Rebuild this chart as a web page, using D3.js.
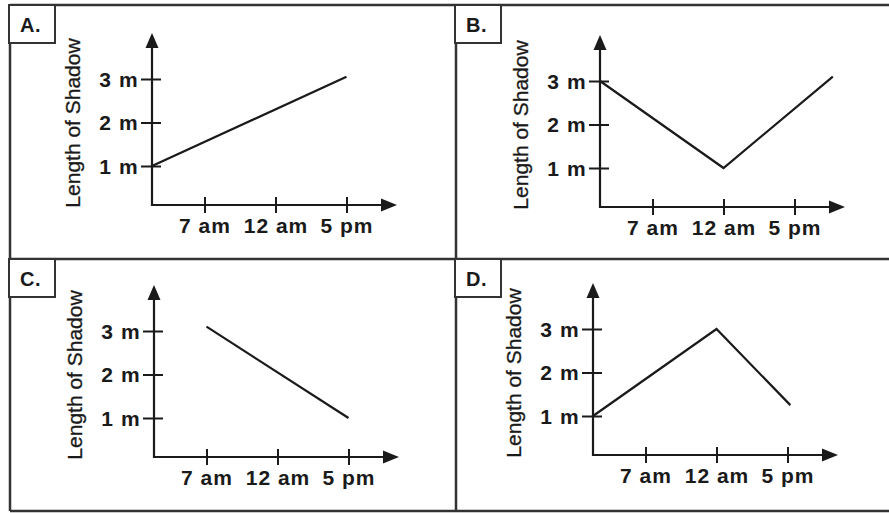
<!DOCTYPE html>
<html><head><meta charset="utf-8">
<script src="https://cdn.jsdelivr.net/npm/d3@7"></script>
<style>html,body{margin:0;padding:0;background:#fff;}svg{display:block;}</style>
</head><body>
<svg id="chart" width="889" height="513"></svg>
<script>
// ---- data ----
const panelLabels = ["A.", "B.", "C.", "D."];
const xTickHours = [7, 12, 17];
const xTickLabels = ["7 am", "12 am", "5 pm"];
const yTickValues = [1, 2, 3];
const yTickLabels = ["1 m", "2 m", "3 m"];
const yTitle = "Length of Shadow";
const hoursA = [3.3, 17],        shadowA = [1, 3.05];
const hoursB = [3.3, 12, 19.7],  shadowB = [3, 1, 3.1];
const hoursC = [7, 17],          shadowC = [3.1, 1];
const hoursD = [3.3, 12, 17.2],  shadowD = [1, 3, 1.25];

// ---- layout ----
const seriesHours = [hoursA, hoursB, hoursC, hoursD];
const seriesShadow = [shadowA, shadowB, shadowC, shadowD];
const panelBoxes = [[10, 5], [456, 5], [10, 259], [456, 259]];
const origins = [[152, 205], [600, 207], [154, 457], [593, 455]];
const ink = "#1a1a1a";
const sans = "Liberation Sans, Arial, Helvetica, sans-serif";

const svg = d3.select("#chart");
svg.append("rect").attr("width", 889).attr("height", 513).attr("fill", "#fff");

// outer frame and dividers
const frame = svg.append("g").attr("stroke", "#333").attr("stroke-width", 2.5).attr("fill", "none");
frame.append("line").attr("x1", 10).attr("x2", 889).attr("y1", 5).attr("y2", 5);
frame.append("line").attr("x1", 10).attr("x2", 889).attr("y1", 511).attr("y2", 511);
frame.append("line").attr("x1", 10).attr("x2", 10).attr("y1", 5).attr("y2", 511);
frame.append("line").attr("x1", 456).attr("x2", 456).attr("y1", 5).attr("y2", 511);
frame.append("line").attr("x1", 10).attr("x2", 889).attr("y1", 259).attr("y2", 259);

panelLabels.forEach((lab, i) => {
  const [px, py] = panelBoxes[i];
  const [ox, oy] = origins[i];
  const g = svg.append("g");

  // label box
  g.append("rect").attr("x", px - 1).attr("y", py).attr("width", 46).attr("height", 38)
    .attr("fill", "#fff").attr("stroke", "#333").attr("stroke-width", 2);
  g.append("text").attr("x", px + 10).attr("y", py + 27).text(lab)
    .attr("font-family", sans).attr("font-weight", "bold")
    .attr("font-size", 20).attr("letter-spacing", 0.5).attr("fill", ink);

  const x = d3.scaleLinear().domain([3.3, 17]).range([ox, ox + 194.5]);
  const y = d3.scaleLinear().domain([0, 3]).range([oy + 4.5, oy + 4.5 - 130.5]);

  // axis lines with arrows
  g.append("line").attr("x1", ox).attr("x2", ox).attr("y1", oy + 1).attr("y2", oy - 160)
    .attr("stroke", ink).attr("stroke-width", 2.2);
  g.append("line").attr("x1", ox - 1).attr("x2", ox + 232).attr("y1", oy).attr("y2", oy)
    .attr("stroke", ink).attr("stroke-width", 2.2);
  g.append("path").attr("d", `M${ox},${oy - 172} L${ox - 6.5},${oy - 157} L${ox + 6.5},${oy - 157}Z`).attr("fill", ink);
  g.append("path").attr("d", `M${ox + 245},${oy} L${ox + 229},${oy - 6.5} L${ox + 229},${oy + 6.5}Z`).attr("fill", ink);

  // y axis
  const ya = g.append("g").attr("transform", `translate(${ox},0)`)
    .call(d3.axisLeft(y).tickValues(yTickValues).tickFormat((d, k) => yTickLabels[k]).tickSize(11).tickPadding(2));
  ya.select(".domain").remove();
  ya.selectAll(".tick line").attr("x1", -11).attr("x2", 9).attr("stroke", ink).attr("stroke-width", 2);
  ya.selectAll(".tick text").attr("font-family", sans).attr("font-weight", "bold")
    .attr("font-size", 21).attr("letter-spacing", 1.2).attr("fill", ink).attr("dy", "0.35em");

  // x axis
  const xa = g.append("g").attr("transform", `translate(0,${oy})`)
    .call(d3.axisBottom(x).tickValues(xTickHours).tickFormat((d, k) => xTickLabels[k]).tickSize(8).tickPadding(5));
  xa.select(".domain").remove();
  xa.selectAll(".tick line").attr("y1", -8).attr("y2", 8).attr("stroke", ink).attr("stroke-width", 2);
  xa.selectAll(".tick text").attr("font-family", sans).attr("font-weight", "bold")
    .attr("font-size", 21).attr("letter-spacing", 1).attr("fill", ink).attr("dy", "0.71em");

  // y title
  g.append("text").attr("transform", `translate(${ox - 72},${oy - 82}) rotate(-90)`)
    .attr("text-anchor", "middle").text(yTitle)
    .attr("font-family", sans).attr("font-size", 21).attr("fill", ink)
    .attr("stroke", ink).attr("stroke-width", 0.3);

  // data line
  const pts = seriesHours[i].map((h, k) => [h, seriesShadow[i][k]]);
  g.append("path").datum(pts)
    .attr("d", d3.line().x(d => x(d[0])).y(d => y(d[1])))
    .attr("fill", "none").attr("stroke", ink).attr("stroke-width", 2.2).attr("stroke-linejoin", "miter");
});
</script>
</body></html>
